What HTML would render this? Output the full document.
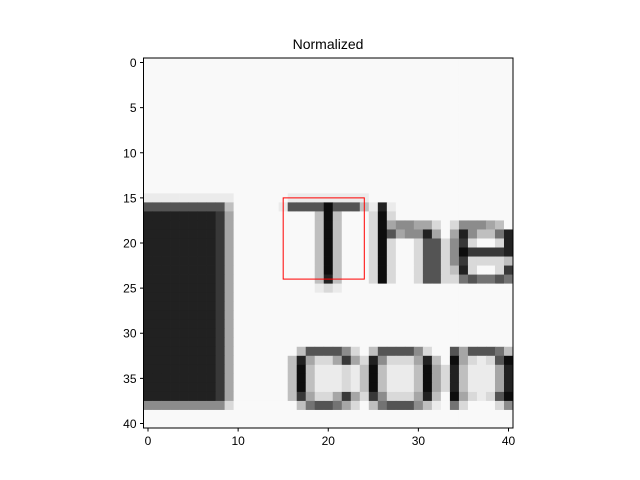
<!DOCTYPE html>
<html><head><meta charset="utf-8"><style>
body{margin:0;background:#fff;}
svg{display:block;font-family:"Liberation Sans","DejaVu Sans",sans-serif;}
</style></head><body>
<svg id="chart" width="640" height="480">
<text x="328" y="49" text-anchor="middle" font-size="14">Normalized</text>
<g id="cells"></g>
<g id="overlay"></g>
<g id="axes"></g>
</svg>
<script>
const rowsData = [
".........................................",
".........................................",
".........................................",
".........................................",
".........................................",
".........................................",
".........................................",
".........................................",
".........................................",
".........................................",
".........................................",
".........................................",
".........................................",
".........................................",
".........................................",
"9999999999......999999999................",
"3333333337.....9333303337919.............",
"1111111126.........707...808.............",
"1111111126.........707...80655668.855567.",
"1111111126.........707...80365516.6157741",
"1111111126.........707...808..8338528..81",
"1111111126.........707...808..83385022221",
"1111111126.........707...808..83385288887",
"1111111126.........707...808..8338718..82",
"1111111126.........717...808..83388434434",
"1111111126.........989...................",
"1111111126...............................",
"1111111126...............................",
"1111111126...............................",
"1111111126...............................",
"1111111126...............................",
"1111111126...............................",
"1111111126.......7333358.7333358..3633347",
"1111111126......71688626815888617.0689830",
"1111111126......7079998970799970681799961",
"1111111126......7079998970799970681799961",
"1111111126......7079998970799970681799961",
"1111111126......72688626825888617.0689830",
"5555555558.......7433468.74333579.48...85",
".........................................",
"........................................."
];
const levels = {"0":0.05,"1":0.13,"2":0.22,"3":0.33,"4":0.45,"5":0.55,"6":0.65,"7":0.75,"8":0.85,"9":0.92,".":0.975};
const xTicks = [0,10,20,30,40];
const yTicks = [0,5,10,15,20,25,30,35,40];
const boxX0 = 15, boxX1 = 24, boxY0 = 15, boxY1 = 24;

const NS="http://www.w3.org/2000/svg";
const L=143.5,R=513,T=58,B=428,N=41;
const cw=(R-L)/N, ch=(B-T)/N;
const sx=v=>L+(v+0.5)*cw, sy=v=>T+(v+0.5)*ch;
const cells=document.getElementById('cells');
rowsData.forEach((row,r)=>{
  for(let c=0;c<N;c++){
    const ch_=row[c]||'.';
    const g=Math.round(255*(levels[ch_]??0.975));
    const el=document.createElementNS(NS,'rect');
    el.setAttribute('x',(sx(c-0.5)).toFixed(2));
    el.setAttribute('y',(sy(r-0.5)).toFixed(2));
    el.setAttribute('width',(cw+0.4).toFixed(2));
    el.setAttribute('height',(ch+0.4).toFixed(2));
    el.setAttribute('fill',`rgb(${g},${g},${g})`);
    
    
    cells.appendChild(el);
  }
});
const ov=document.getElementById('overlay');
const box=document.createElementNS(NS,'rect');
box.setAttribute('x',sx(boxX0));box.setAttribute('y',sy(boxY0));
box.setAttribute('width',sx(boxX1)-sx(boxX0));box.setAttribute('height',sy(boxY1)-sy(boxY0));
box.setAttribute('fill','none');box.setAttribute('stroke','#ff0000');box.setAttribute('stroke-width','1');


ov.appendChild(box);
const ax=document.getElementById('axes');
const frame=document.createElementNS(NS,'rect');
frame.setAttribute('x',L);frame.setAttribute('y',T);frame.setAttribute('width',R-L);frame.setAttribute('height',B-T);
frame.setAttribute('fill','none');frame.setAttribute('stroke','#000');frame.setAttribute('stroke-width','1');


ax.appendChild(frame);
xTicks.forEach(v=>{
  const x=sx(v);
  const t=document.createElementNS(NS,'line');
  t.setAttribute('x1',x);t.setAttribute('x2',x);t.setAttribute('y1',B);t.setAttribute('y2',B+3.5);t.setAttribute('stroke','#000');
  
  
  ax.appendChild(t);
  const l=document.createElementNS(NS,'text');
  l.setAttribute('x',x);l.setAttribute('y',B+17);l.setAttribute('text-anchor','middle');l.setAttribute('font-size','12');
  l.textContent=v;
  
  
  ax.appendChild(l);
});
yTicks.forEach(v=>{
  const y=sy(v);
  const t=document.createElementNS(NS,'line');
  t.setAttribute('x1',L-3.5);t.setAttribute('x2',L);t.setAttribute('y1',y);t.setAttribute('y2',y);t.setAttribute('stroke','#000');
  
  
  ax.appendChild(t);
  const l=document.createElementNS(NS,'text');
  l.setAttribute('x',L-7);l.setAttribute('y',y+4.5);l.setAttribute('text-anchor','end');l.setAttribute('font-size','12');
  l.textContent=v;
  
  
  ax.appendChild(l);
});
</script>
</body></html>
